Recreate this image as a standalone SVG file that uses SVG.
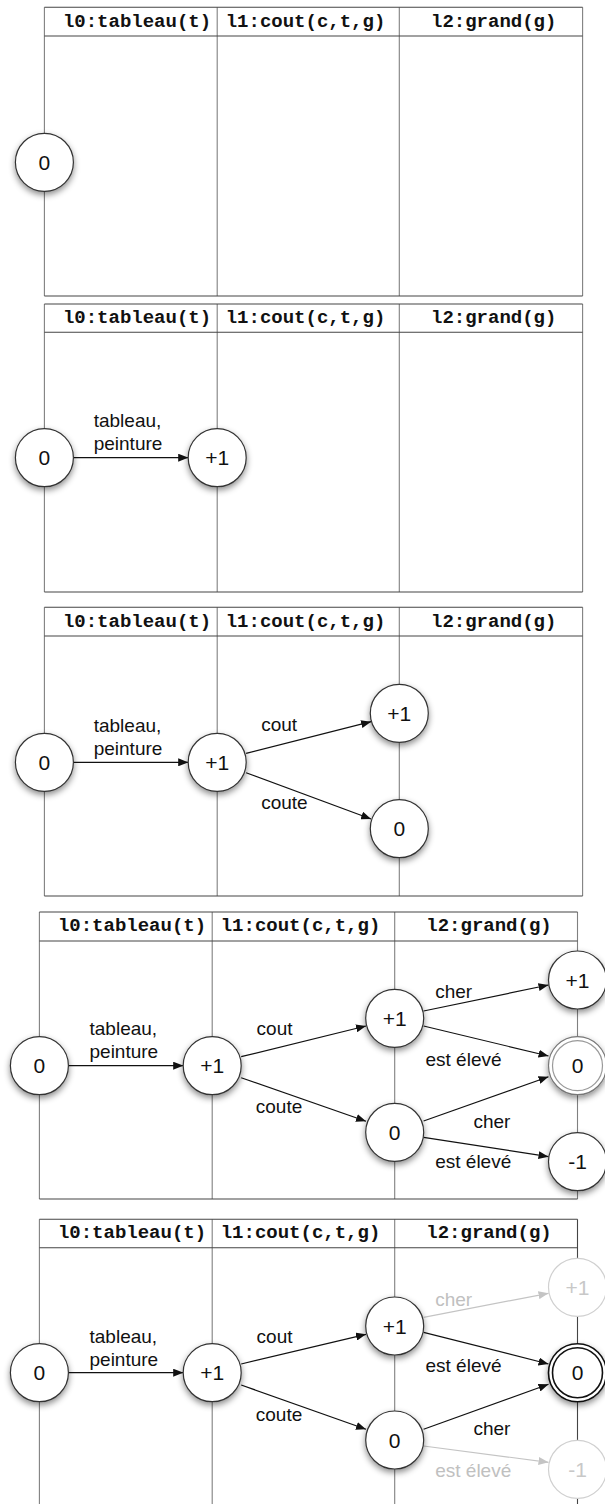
<svg xmlns="http://www.w3.org/2000/svg" width="605" height="1504" viewBox="0 0 605 1504">
<style>
.bg{fill:#fff}
.frame{fill:none;stroke:#444;stroke-width:1.1}
.hl{stroke:#444;stroke-width:1.1}
.vl{stroke:#808080;stroke-width:1.1}
.hdr{font-family:"Liberation Mono","Courier New",monospace;font-weight:bold;font-size:19px;fill:#111}
.nd{fill:#fff;stroke:#333;stroke-width:1.2;filter:url(#sh)}
.nt{font-family:"Liberation Sans",Arial,sans-serif;font-size:21px;text-anchor:middle;fill:#111}
.lbl{font-family:"Liberation Sans",Arial,sans-serif;font-size:19px;fill:#111}
.e{stroke:#111;stroke-width:1.2;fill:none;marker-end:url(#ah)}
.fe{stroke:#c4c4c4;stroke-width:1.2;fill:none;marker-end:url(#ahf)}
.fnd{fill:#fff;stroke:#d0d0d0;stroke-width:1.2}
.fnt{font-family:"Liberation Sans",Arial,sans-serif;font-size:21px;text-anchor:middle;fill:#c8c8c8}
.flbl{font-family:"Liberation Sans",Arial,sans-serif;font-size:19px;fill:#c0c0c0}
.dbl1{fill:#fff;stroke:#777;stroke-width:1.2;filter:url(#sh)}
.dbl2{fill:none;stroke:#999;stroke-width:1.2}
.dbk1{fill:#fff;stroke:#111;stroke-width:1.6;filter:url(#sh)}
.dbk2{fill:none;stroke:#111;stroke-width:1.6}
</style>
<defs>
<filter id="sh" x="-40%" y="-40%" width="180%" height="190%">
<feDropShadow dx="0" dy="3" stdDeviation="3" flood-color="#000" flood-opacity="0.45"/>
</filter>
<marker id="ah" markerWidth="10" markerHeight="8" refX="10" refY="4" orient="auto" markerUnits="userSpaceOnUse">
<path d="M0,0 L10,4 L0,8 z" fill="#111"/>
</marker>
<marker id="ahf" markerWidth="10" markerHeight="8" refX="10" refY="4" orient="auto" markerUnits="userSpaceOnUse">
<path d="M0,0 L10,4 L0,8 z" fill="#c4c4c4"/>
</marker>
</defs>
<rect class="bg" x="0" y="0" width="605" height="1504"/>

<!-- Panel 1 -->
<g id="panel1">
<g id="p1-frame">
<line class="vl" x1="44.4" y1="7.3" x2="44.4" y2="296"/>
<line class="vl" x1="217.2" y1="7.3" x2="217.2" y2="296"/>
<line class="vl" x1="399.3" y1="7.3" x2="399.3" y2="296"/>
<line class="vl" x1="582.6" y1="7.3" x2="582.6" y2="296"/>
<line class="hl" x1="44.4" y1="7.3" x2="582.6" y2="7.3"/>
<line class="hl" x1="44.4" y1="36" x2="582.6" y2="36"/>
<line class="hl" x1="44.4" y1="296" x2="582.6" y2="296"/>
<text class="hdr" x="62.9" y="27">l0:tableau(t)</text>
<text class="hdr" x="225.7" y="27">l1:cout(c,t,g)</text>
<text class="hdr" x="431" y="27">l2:grand(g)</text>
</g>
<g id="p1-connectors"></g>
<g id="p1-n0"><circle class="nd" cx="44.4" cy="162.3" r="29"/><text class="nt" x="44.4" y="169.8">0</text></g>
</g>

<!-- Panel 2 -->
<g id="panel2">
<g id="p2-frame">
<line class="vl" x1="44.4" y1="304" x2="44.4" y2="592"/>
<line class="vl" x1="217.2" y1="304" x2="217.2" y2="592"/>
<line class="vl" x1="399.3" y1="304" x2="399.3" y2="592"/>
<line class="vl" x1="582.6" y1="304" x2="582.6" y2="592"/>
<line class="hl" x1="44.4" y1="304" x2="582.6" y2="304"/>
<line class="hl" x1="44.4" y1="332.3" x2="582.6" y2="332.3"/>
<line class="hl" x1="44.4" y1="592" x2="582.6" y2="592"/>
<text class="hdr" x="62.9" y="322.5">l0:tableau(t)</text>
<text class="hdr" x="225.7" y="322.5">l1:cout(c,t,g)</text>
<text class="hdr" x="431" y="322.5">l2:grand(g)</text>
</g>
<g id="p2-connectors">
<line class="e" x1="73.4" y1="457.7" x2="188.2" y2="457.7"/>
<text class="lbl" x="93.7" y="426.7">tableau,</text>
<text class="lbl" x="93.7" y="450">peinture</text>
</g>
<g id="p2-n0"><circle class="nd" cx="44.4" cy="457.7" r="29"/><text class="nt" x="44.4" y="465.2">0</text></g>
<g id="p2-n1"><circle class="nd" cx="217.2" cy="457.7" r="29"/><text class="nt" x="217.2" y="465.2">+1</text></g>
</g>

<!-- Panel 3 -->
<g id="panel3">
<g id="p3-frame">
<line class="vl" x1="44.4" y1="607.3" x2="44.4" y2="896"/>
<line class="vl" x1="217.2" y1="607.3" x2="217.2" y2="896"/>
<line class="vl" x1="399.3" y1="607.3" x2="399.3" y2="896"/>
<line class="vl" x1="582.6" y1="607.3" x2="582.6" y2="896"/>
<line class="hl" x1="44.4" y1="607.3" x2="582.6" y2="607.3"/>
<line class="hl" x1="44.4" y1="636" x2="582.6" y2="636"/>
<line class="hl" x1="44.4" y1="896" x2="582.6" y2="896"/>
<text class="hdr" x="62.9" y="627">l0:tableau(t)</text>
<text class="hdr" x="225.7" y="627">l1:cout(c,t,g)</text>
<text class="hdr" x="431" y="627">l2:grand(g)</text>
</g>
<g id="p3-connectors">
<line class="e" x1="73.4" y1="762.3" x2="188.2" y2="762.3"/>
<text class="lbl" x="93.7" y="731.7">tableau,</text>
<text class="lbl" x="93.7" y="755">peinture</text>
<line class="e" x1="246.1" y1="753.3" x2="371.1" y2="721.7"/>
<text class="lbl" x="261.2" y="731">cout</text>
<line class="e" x1="246.1" y1="772.7" x2="371.1" y2="819"/>
<text class="lbl" x="261.2" y="809.3">coute</text>
</g>
<g id="p3-n0"><circle class="nd" cx="44.4" cy="762.3" r="29"/><text class="nt" x="44.4" y="769.8">0</text></g>
<g id="p3-n1"><circle class="nd" cx="217.2" cy="762.3" r="29"/><text class="nt" x="217.2" y="769.8">+1</text></g>
<g id="p3-n2"><circle class="nd" cx="399.3" cy="713.3" r="29"/><text class="nt" x="399.3" y="720.8">+1</text></g>
<g id="p3-n3"><circle class="nd" cx="399.3" cy="828.7" r="29"/><text class="nt" x="399.3" y="836.2">0</text></g>
</g>

<!-- Panel 4 -->
<g id="panel4">
<g id="p4-frame">
<line class="vl" x1="39.4" y1="912" x2="39.4" y2="1199"/>
<line class="vl" x1="212.2" y1="912" x2="212.2" y2="1199"/>
<line class="vl" x1="394.7" y1="912" x2="394.7" y2="1199"/>
<line class="vl" x1="577.5" y1="912" x2="577.5" y2="1199"/>
<line class="hl" x1="39.4" y1="912" x2="577.5" y2="912"/>
<line class="hl" x1="39.4" y1="941" x2="577.5" y2="941"/>
<line class="hl" x1="39.4" y1="1199" x2="577.5" y2="1199"/>
<text class="hdr" x="57.9" y="931">l0:tableau(t)</text>
<text class="hdr" x="220.7" y="931">l1:cout(c,t,g)</text>
<text class="hdr" x="426.3" y="931">l2:grand(g)</text>
</g>
<g id="p4-connectors">
<line class="e" x1="68.4" y1="1065.7" x2="183.2" y2="1065.7"/>
<text class="lbl" x="89.5" y="1035">tableau,</text>
<text class="lbl" x="89.5" y="1058.3">peinture</text>
<line class="e" x1="241.2" y1="1056.7" x2="366" y2="1026"/>
<text class="lbl" x="256.6" y="1035">cout</text>
<line class="e" x1="241.2" y1="1077.7" x2="366" y2="1121.3"/>
<text class="lbl" x="255.8" y="1113.3">coute</text>
<line class="e" x1="423.6" y1="1011" x2="548.5" y2="985"/>
<text class="lbl" x="435.2" y="997.7">cher</text>
<line class="e" x1="423.6" y1="1026" x2="548.5" y2="1056"/>
<text class="lbl" x="425.5" y="1065.7">est élevé</text>
<line class="e" x1="423.6" y1="1121" x2="548.5" y2="1076.7"/>
<text class="lbl" x="473.4" y="1127.7">cher</text>
<line class="e" x1="423.6" y1="1137.3" x2="548.5" y2="1156.7"/>
<text class="lbl" x="435.2" y="1168.3">est élevé</text>
</g>
<g id="p4-n0"><circle class="nd" cx="39.4" cy="1065.7" r="29"/><text class="nt" x="39.4" y="1073.2">0</text></g>
<g id="p4-n1"><circle class="nd" cx="212.2" cy="1065.7" r="29"/><text class="nt" x="212.2" y="1073.2">+1</text></g>
<g id="p4-n2"><circle class="nd" cx="394.7" cy="1018.3" r="29"/><text class="nt" x="394.7" y="1025.8">+1</text></g>
<g id="p4-n3"><circle class="nd" cx="394.7" cy="1132.3" r="29"/><text class="nt" x="394.7" y="1139.8">0</text></g>
<g id="p4-n4"><circle class="nd" cx="577.5" cy="980" r="29"/><text class="nt" x="577.5" y="987.5">+1</text></g>
<g id="p4-n5"><circle class="dbl1" cx="577.5" cy="1065.7" r="29"/><circle class="dbl2" cx="577.5" cy="1065.7" r="25"/><text class="nt" x="577.5" y="1073.2">0</text></g>
<g id="p4-n6"><circle class="nd" cx="577.5" cy="1161.7" r="29"/><text class="nt" x="577.5" y="1169.2">-1</text></g>
</g>

<!-- Panel 5 -->
<g id="panel5">
<g id="p5-frame">
<line class="vl" x1="39.4" y1="1219.3" x2="39.4" y2="1504"/>
<line class="vl" x1="212.2" y1="1219.3" x2="212.2" y2="1504"/>
<line class="vl" x1="394.7" y1="1219.3" x2="394.7" y2="1504"/>
<line class="hl" x1="577.5" y1="1219.3" x2="577.5" y2="1504"/>
<line class="hl" x1="39.4" y1="1219.3" x2="577.5" y2="1219.3"/>
<line class="hl" x1="39.4" y1="1247.7" x2="577.5" y2="1247.7"/>
<text class="hdr" x="57.9" y="1238">l0:tableau(t)</text>
<text class="hdr" x="220.7" y="1238">l1:cout(c,t,g)</text>
<text class="hdr" x="426.3" y="1238">l2:grand(g)</text>
</g>
<g id="p5-connectors">
<line class="e" x1="68.4" y1="1372.7" x2="183.2" y2="1372.7"/>
<text class="lbl" x="89.5" y="1342.7">tableau,</text>
<text class="lbl" x="89.5" y="1365.7">peinture</text>
<line class="e" x1="241.2" y1="1364" x2="366" y2="1334.3"/>
<text class="lbl" x="256.6" y="1342.7">cout</text>
<line class="e" x1="241.2" y1="1385" x2="366" y2="1429.3"/>
<text class="lbl" x="255.8" y="1420.7">coute</text>
<line class="fe" x1="423.6" y1="1317.3" x2="548.5" y2="1293.3"/>
<text class="flbl" x="435.2" y="1306">cher</text>
<line class="e" x1="423.6" y1="1332.3" x2="548.5" y2="1364"/>
<text class="lbl" x="425.5" y="1372.3">est élevé</text>
<line class="e" x1="423.6" y1="1429.3" x2="548.5" y2="1384.3"/>
<text class="lbl" x="473.4" y="1435">cher</text>
<line class="fe" x1="423.6" y1="1446" x2="548.5" y2="1462.3"/>
<text class="flbl" x="435.2" y="1476.7">est élevé</text>
</g>
<g id="p5-n0"><circle class="nd" cx="39.4" cy="1372.7" r="29"/><text class="nt" x="39.4" y="1380.2">0</text></g>
<g id="p5-n1"><circle class="nd" cx="212.2" cy="1372.7" r="29"/><text class="nt" x="212.2" y="1380.2">+1</text></g>
<g id="p5-n2"><circle class="nd" cx="394.7" cy="1326" r="29"/><text class="nt" x="394.7" y="1333.5">+1</text></g>
<g id="p5-n3"><circle class="nd" cx="394.7" cy="1440" r="29"/><text class="nt" x="394.7" y="1447.5">0</text></g>
<g id="p5-n4"><circle class="fnd" cx="577.5" cy="1287.3" r="29"/><text class="fnt" x="577.5" y="1294.8">+1</text></g>
<g id="p5-n5"><circle class="dbk1" cx="577.5" cy="1372.7" r="29"/><circle class="dbk2" cx="577.5" cy="1372.7" r="25"/><text class="nt" x="577.5" y="1380.2">0</text></g>
<g id="p5-n6"><circle class="fnd" cx="577.5" cy="1469.3" r="29"/><text class="fnt" x="577.5" y="1476.8">-1</text></g>
</g>
</svg>
